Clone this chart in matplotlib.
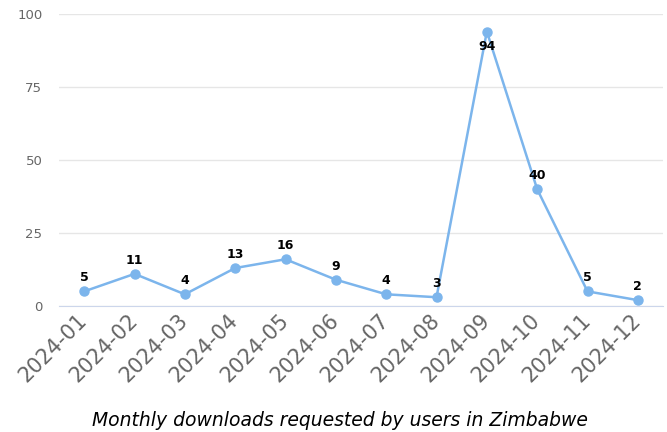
import matplotlib.pyplot as plt

months = ['2024-01', '2024-02', '2024-03', '2024-04', '2024-05', '2024-06',
          '2024-07', '2024-08', '2024-09', '2024-10', '2024-11', '2024-12']
downloads = [5, 11, 4, 13, 16, 9, 4, 3, 94, 40, 5, 2]
title = 'Monthly downloads requested by users in Zimbabwe'

fig = plt.figure(figsize=(6.67, 4.32), dpi=100)
ax = fig.add_axes([0.0885, 0.2917, 0.9055, 0.6759])

x = list(range(len(months)))
ax.plot(x, downloads, color='#7cb5ec', lw=1.8, marker='o', ms=6.5, zorder=3)

for xi, v in zip(x, downloads):
    if v > 90:
        ax.annotate(str(v), (xi, v), xytext=(0, -6), textcoords='offset points',
                    ha='center', va='top', fontsize=9, fontweight='bold', zorder=4)
    else:
        ax.annotate(str(v), (xi, v), xytext=(0, 5), textcoords='offset points',
                    ha='center', va='bottom', fontsize=9, fontweight='bold', zorder=4)

ax.set_xlim(-0.5, len(months) - 0.5)
ax.set_ylim(0, 100)
ax.set_yticks([0, 25, 50, 75, 100])
ax.set_xticks(x)
ax.set_xticklabels(months, rotation=45, ha='right', va='center', rotation_mode='anchor',
                   fontsize=15, color='#666666')
ax.tick_params(axis='y', length=0, labelsize=9.5, labelcolor='#666666', pad=12)
ax.tick_params(axis='x', length=0, pad=8)
ax.grid(axis='y', color='#e6e6e6', lw=1)
ax.set_axisbelow(True)
for s in ['top', 'right', 'left']:
    ax.spines[s].set_visible(False)
ax.spines['bottom'].set_color('#ccd6eb')
ax.spines['bottom'].set_zorder(2)

fig.text(0.51, 0.014, title, ha='center', va='baseline', fontsize=13.5,
         style='italic', color='#000000')

fig.savefig('out.png', dpi=100)
